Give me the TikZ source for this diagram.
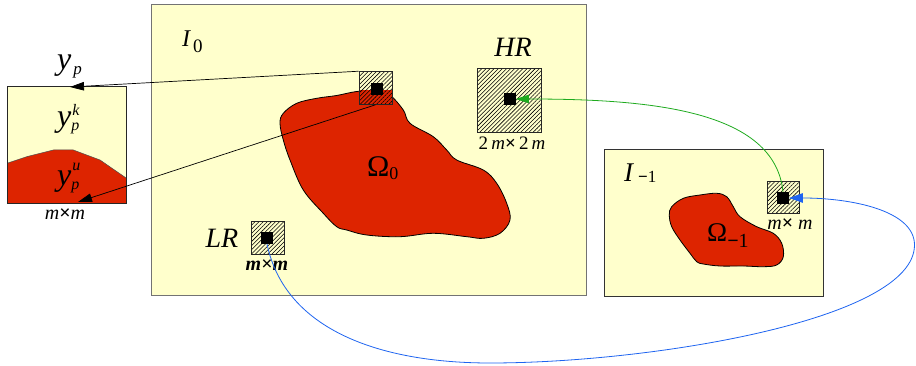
\documentclass[tikz,border=0pt]{standalone}
\usepackage{fontspec}
\setmainfont{Liberation Serif}
\usetikzlibrary{arrows.meta,patterns.meta}

\definecolor{paper}{RGB}{255,255,204}
\definecolor{blobred}{RGB}{221,36,0}
\definecolor{linkgreen}{RGB}{30,170,30}
\definecolor{linkblue}{RGB}{30,100,240}

\newcommand{\fs}[1]{\fontsize{#1}{#1}\selectfont}
\newcommand{\tms}{{\upshape\bfseries ×}}

\begin{document}
\begin{tikzpicture}[x=1pt,y=-1pt,
  frame/.style={draw=#1, line width=1pt, fill=paper, inner sep=0},
  hatchbox/.style={draw=black!85, line width=0.8pt, inner sep=0,
    pattern={Lines[angle=45,distance=2.9pt,line width=0.55pt]}},
  dot/.style={fill=black, minimum size=11.5pt, inner sep=0},
  lbl/.style={inner sep=0, anchor=base},
  lblw/.style={inner sep=0, anchor=base west},
  blackarrow/.style={draw=black, line width=0.7pt, -{Triangle[length=14pt,width=8.5pt]}},
  greenarrow/.style={draw=linkgreen, line width=0.8pt, -{Triangle[length=13pt,width=8.5pt]}},
  bluearrow/.style={draw=linkblue, line width=0.8pt, -{Triangle[length=14pt,width=9.5pt]}},
  blob/.style={fill=blobred, draw=black, line width=0.8pt}
]
\useasboundingbox (0,0) rectangle (916,366);

% ---------- frames ----------
\node[frame=black!55, minimum width=435pt, minimum height=290pt] (I0) at (368.5,150) {};
\node[frame=black!80, minimum width=219pt, minimum height=146pt] (I1) at (713.5,223) {};
\node[fill=paper, inner sep=0, minimum width=118pt, minimum height=116pt] (ybox) at (67,145) {};

% red part of the patch window
\begin{scope}
  \clip (ybox.north west) rectangle (ybox.south east);
  \fill[blobred, draw=black!70, line width=0.5pt]
    (5,164) -- (26.7,156.7) -- (53.3,150) -- (73.3,150) -- (100,160) -- (129,180)
    -- (129,206) -- (5,206) -- cycle;
\end{scope}
\draw[black!85, line width=1pt] (ybox.north west) rectangle (ybox.south east);

% ---------- regions ----------
\path[blob] plot[smooth cycle, tension=0.6] coordinates {
  (377.7,90.5) (390,95) (403.3,110) (410,123.3) (433.3,136.7) (446.7,150)
  (456.7,160) (483.3,170) (496.7,183.3) (506.7,203.3) (510,220) (500,233.3)
  (483.3,238.3) (466.7,236.7) (433.3,233.3) (400,236.7) (366.7,235)
  (346.7,230) (336.7,226.7) (323.3,213.3) (303.3,190) (290,160)
  (283.3,140) (280,123.3) (283.3,113.3) (296.7,103.3) (316.7,98.3)
  (336.7,95.5) (356.7,91.5)};
\fill[blobred] (359.5,90) rectangle (391.5,103.5);

\path[blob] plot[smooth cycle, tension=0.6] coordinates {
  (671.7,206.7) (683.3,198.3) (700,195) (716.7,193.3) (726.7,196.7)
  (733.3,206.7) (740,216.7) (756.7,226.7) (773.3,233.3) (781.7,243.3)
  (783.3,256.7) (776.7,265) (763.3,266.7) (743.3,266) (720,266)
  (703.3,264) (696.7,261.7) (690,253.3) (680,240) (671.7,226.7) (669.3,215)};

% ---------- windows ----------
\node[hatchbox, minimum size=33pt] (P)  at (375.5,88)  {};
\node[hatchbox, minimum size=64pt] (HR) at (509,100.5) {};
\node[hatchbox, minimum size=33pt] (LR) at (267.5,238) {};
\node[hatchbox, minimum size=32pt] (R1) at (783.5,197.5) {};

\node[dot] (Pdot)  at (377,89)  {};
\node[dot] (HRdot) at (510,99)  {};
\node[dot] (LRdot) at (267,238) {};
\node[dot] (R1dot) at (783,198) {};

% ---------- labels ----------
\node[lblw] (lI0) at (182,47) {\fs{24}\itshape I\kern3pt\raisebox{-6pt}{\fs{19}\upshape 0}};
\node[lblw] (lI1) at (624,182) {\fs{27}\itshape I\kern5pt\raisebox{-1pt}{\fs{17}\upshape\textbf{−}1}};
\node[lbl] (lHR) at (513,57) {\fs{28}\itshape HR};
\node[lbl] (lLR) at (222,248) {\fs{28}\itshape LR};
\node[lbl] (sHR) at (512,150) {\fs{19}2\,\textit{m}\tms\,2\,\textit{m}};
\node[lbl] (sLR) at (267,270) {\fs{20}\bfseries\itshape m\tms m};
\node[lbl] (sR1) at (790,230) {\fs{20}\itshape m\tms\ m};
\node[lbl] (sY)  at (65,220)  {\fs{20}\itshape m\tms m};
\node[lblw] (lO0) at (367,177) {\fs{30}Ω\raisebox{-3pt}{\fs{18}0}};
\node[lblw] (lO1) at (707,242) {\fs{27}Ω\raisebox{-6pt}{\fs{20}\textbf{−}1}};

% labels of the patch window: value, known part, unknown part
\node[lblw] (yp) at (57,69.5) {\fs{32}\itshape y\kern2pt\raisebox{-5.3pt}{\fs{17}p}};
\node[lblw] (ypk) at (57,127) {\fs{32}\itshape y\rlap{\kern1pt\raisebox{11pt}{\fs{16}k}}\raisebox{-4pt}{\fs{16}p}};
\node[lblw] (ypu) at (57,186) {\fs{32}\itshape y\rlap{\kern1pt\raisebox{15pt}{\fs{16}u}}\raisebox{-4pt}{\fs{16}p}};

% ---------- connectors ----------
\coordinate (ytop) at (70,87);
\coordinate (ybot) at (78,202);
\coordinate (bb) at (490,363);
\coordinate (br) at (914.5,245);

\draw[blackarrow] (P.north west) -- (ytop);
\draw[blackarrow] (P.south) -- (ybot);

\draw[greenarrow] (R1dot.north) .. controls (775,110) and (650,99) .. (HRdot.east);

\draw[bluearrow] (LRdot.south) .. controls (285,330) and (380,363) .. (bb)
  .. controls (650,363) and (914.5,320) .. (br)
  .. controls (914.5,210) and (850,198) .. (R1dot.east);
\end{tikzpicture}
\end{document}
